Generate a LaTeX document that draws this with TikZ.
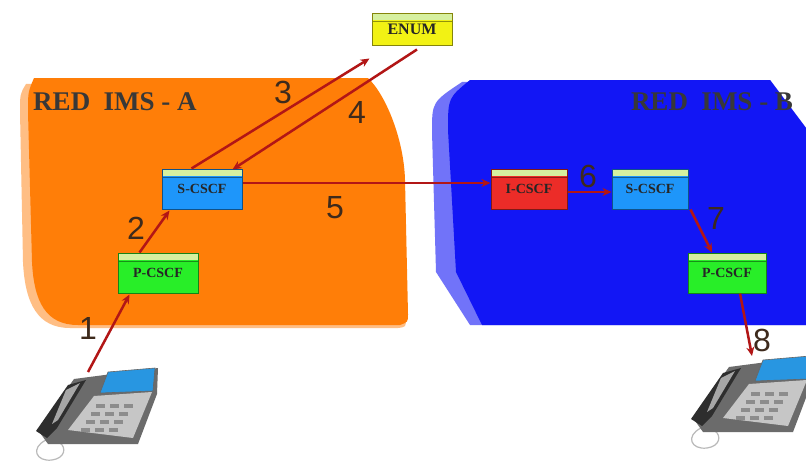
\documentclass[tikz,border=0pt]{standalone}
\usepackage{fontspec}
\setmainfont{Liberation Serif}
\newfontfamily\numfont{Liberation Sans}
\usetikzlibrary{arrows.meta,calc}

\definecolor{orangeA}{RGB}{255,126,8}
\definecolor{blueB}{RGB}{18,22,245}
\definecolor{scscf}{RGB}{30,150,250}
\definecolor{pcscf}{RGB}{40,238,40}
\definecolor{icscf}{RGB}{236,44,40}
\definecolor{enumy}{RGB}{242,242,20}
\definecolor{bandc}{RGB}{214,240,160}
\definecolor{msgred}{RGB}{178,22,22}
\definecolor{numc}{RGB}{62,42,28}
\definecolor{screenc}{RGB}{40,150,225}

\tikzset{
  db/.style={rectangle, draw=#1!55!black, fill=#1, line width=1pt,
    minimum width=80pt, minimum height=40pt, inner sep=0pt,
    font=\fontsize{14}{14}\selectfont\bfseries, text=black!85,
    path picture={
      \fill[bandc] (path picture bounding box.north west) rectangle
        ([yshift=-7pt]path picture bounding box.north east);
      \draw[#1!60!black, line width=0.7pt]
        ([yshift=-8pt]path picture bounding box.north west) --
        ([yshift=-8pt]path picture bounding box.north east);}},
  msg/.style={draw=msgred, line width=2.5pt, -{Stealth[length=9pt,width=8pt]}},
  num/.style={font=\numfont\fontsize{32}{32}\selectfont, text=numc},
  region/.style={font=\fontsize{27}{27}\selectfont\bfseries, text=black!78},
  deskphone/.pic={
    % cord
    \draw[gray!55, line width=1.2pt] (46,440) .. controls (30,448) and (36,462) .. (52,460)
      .. controls (66,458) and (66,447) .. (60,443);
    % body
    \fill[black!58] (38,430) -- (74,379) -- (158,368) -- (157,394) -- (138,444) -- (48,444) -- cycle;
    % keypad face
    \fill[gray!45] (68,430) -- (94,396) -- (152,392) -- (133,438) -- cycle;
    \foreach \r in {0,1,2,3}
      \foreach \c in {0,1,2}
        \fill[black!45] ($(96,404)+(\c*14-\r*5,\r*8)$) rectangle +(9,4);
    % display
    \fill[screenc] (100,393) -- (108,372) -- (155,368) -- (153,391) -- cycle;
    \draw[black!60, line width=0.6pt] (100,393) -- (108,372) -- (155,368) -- (153,391) -- cycle;
    % handset
    \fill[black!82] (36,431) -- (68,385) -- (86,380) -- (57,428) -- (47,438) -- cycle;
    \fill[gray!70] (66,390) -- (80,383) -- (58,420) -- (52,424) -- cycle;
  }
}

\begin{document}
\begin{tikzpicture}[x=1pt,y=-1pt]
\useasboundingbox (0,0) rectangle (806,463);
\fill[white] (0,0) rectangle (806,463);

% domain A, with a soft outer rim
\fill[orangeA!50!white] (26,84) -- (364,80) .. controls (383,96) and (403,140) .. (404,182)
  -- (406,318) .. controls (406,327) .. (398,328) -- (70,328)
  .. controls (38,328) and (25,304) .. (23,262) -- (20,112) .. controls (20,94) .. (26,84) -- cycle;
\fill[orangeA] (34,78) -- (368,78) .. controls (386,95) and (404,140) .. (405,180)
  -- (408,314) .. controls (408,322) .. (400,325) -- (78,325)
  .. controls (46,325) and (34,302) .. (32,262) -- (28,112) .. controls (28,92) .. (34,78) -- cycle;

% domain B, with a soft outer rim
\fill[blueB!60!white] (462,82) -- (770,80) -- (806,128) -- (806,325) -- (470,325)
  -- (436,272) -- (432,132) .. controls (432,102) .. (462,82) -- cycle;
\fill[blueB] (470,80) -- (770,80) -- (806,128) -- (806,325) -- (482,325)
  -- (456,272) -- (448,130) .. controls (448,98) .. (470,80) -- cycle;

\node[region] (labA) at (115,102) {RED\ \ IMS - A};
\node[region] (labB) at (712,102) {RED\ \ IMS - B};

% servers
\node[db=enumy, minimum width=80pt, minimum height=32pt,
  font=\fontsize{16}{16}\selectfont\bfseries] (enum) at (412,29) {\raisebox{-3pt}{ENUM}};
\node[db=scscf] (sA) at (202,189) {\raisebox{-4pt}{S-CSCF}};
\node[db=pcscf] (pA) at (158,273) {\raisebox{-4pt}{P-CSCF}};
\node[db=icscf, minimum width=76pt] (iB) at (529,189) {\raisebox{-4pt}{I-CSCF}};
\node[db=scscf, minimum width=76pt] (sB) at (650,189) {\raisebox{-4pt}{S-CSCF}};
\node[db=pcscf, minimum width=78pt] (pB) at (727,273) {\raisebox{-4pt}{P-CSCF}};

% terminals
\pic at (0,0) {deskphone};
\pic at (655,-12) {deskphone};
\coordinate (telA) at (88,372);
\coordinate (telB) at (752,356);

% signalling
\draw[msg] (telA) -- ($(pA.south west)+(12,1)$);
\draw[msg] ($(pA.north west)+(22,0)$) -- ($(sA.south west)+(8,1)$);
\draw[msg] ($(sA.north west)+(30,0)$) -- ($(enum.south west)+(-2,13)$);
\draw[msg] ($(enum.south)+(5,4)$) -- ($(sA.north east)+(-10,1)$);
\draw[msg] ($(sA.east)+(0,-6)$) -- ($(iB.west)+(0,-6)$);
\draw[msg] ($(iB.east)+(0,3)$) -- ($(sB.west)+(0,3)$);
\draw[msg] ($(sB.south east)+(2,0)$) -- ($(pB.north)+(-15,0)$);
\draw[msg] ($(pB.south)+(13,0)$) -- (telB);

% step numbers
\node[num] (n1) at (88,328) {1};
\node[num] (n2) at (136,228) {2};
\node[num] (n3) at (283,92) {3};
\node[num] (n4) at (357,112) {4};
\node[num] (n5) at (335,208) {5};
\node[num] (n6) at (588,176) {6};
\node[num] (n7) at (716,218) {7};
\node[num] (n8) at (762,340) {8};
\end{tikzpicture}
\end{document}
